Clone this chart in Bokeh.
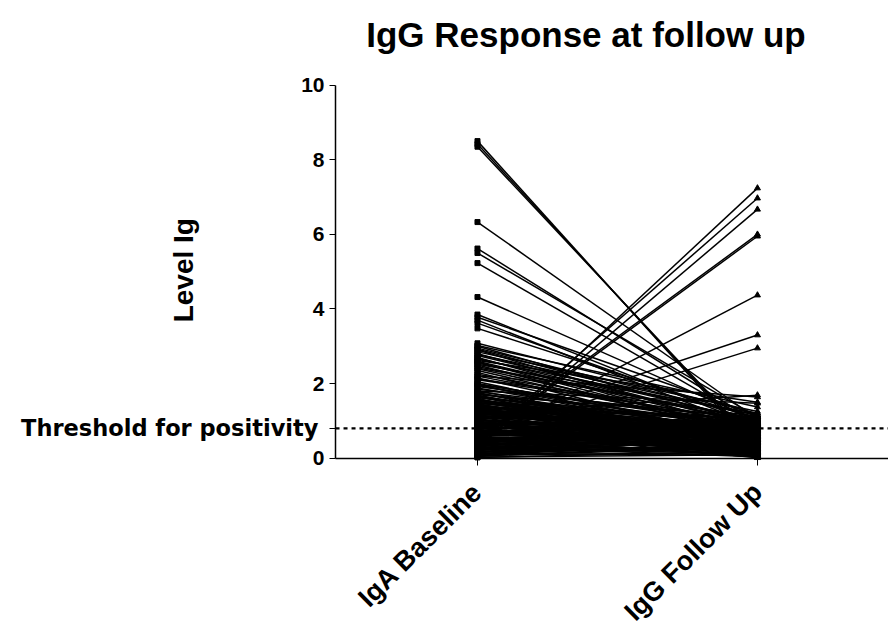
from bokeh.plotting import figure
from bokeh.models import Range1d, FixedTicker, LinearAxis
from bokeh.core.properties import value
from bokeh.embed import file_html
from bokeh.resources import INLINE
from math import pi

categories = ["IgA Baseline", "IgG Follow Up"]
x_pos = [0, 1]
y_ticks = [0, 2, 4, 6, 8, 10]
threshold = 0.8
threshold_label = "Threshold for positivity"
y_label = "Level Ig"
title_text = "IgG Response at follow up"

# Paired values: baseline[i] -> followup[i]
baseline = [
    # high baseline, falling
    8.50, 8.42, 8.35, 6.33, 5.62, 5.50, 5.23, 4.32, 3.85, 3.78, 3.70, 3.62, 3.48,
    3.08, 3.00, 2.95, 2.90, 2.85, 2.80, 2.75, 2.70, 2.65, 2.60, 2.55, 2.50, 2.45,
    2.40, 2.35, 2.25, 2.15, 2.10, 2.05, 2.00, 1.95,
    2.92, 2.78, 2.58, 2.42, 2.30, 2.20, 2.12, 1.98, 2.68, 2.52,
    # rising
    0.25, 0.40, 0.30, 0.50, 0.45, 0.45, 0.80, 0.60, 1.20, 2.20, 2.62, 1.80, 3.02,
    # dense mass
    1.92, 1.88, 1.85, 1.81, 1.78, 1.76, 1.73, 1.70, 1.67, 1.64, 1.62, 1.58, 1.56,
    1.53, 1.50, 1.47, 1.45, 1.42, 1.40, 1.37, 1.35, 1.32, 1.29, 1.27, 1.24, 1.21,
    1.19, 1.16, 1.13, 1.11, 1.08, 1.05, 1.03, 1.00, 0.97, 0.95, 0.92, 0.89, 0.87,
    0.84, 0.82, 0.79, 0.76, 0.74, 0.71, 0.68, 0.66, 0.63, 0.60, 0.58, 0.55, 0.52,
    0.50, 0.47, 0.45, 0.42, 0.39, 0.37, 0.34, 0.32, 0.29, 0.26, 0.24, 0.21, 0.19,
    0.16, 0.13, 0.11, 0.08, 0.05, 0.03, 1.60, 0.20, 1.30, 0.60, 1.75, 0.90,
    1.55, 1.48, 1.41, 1.33, 1.26, 1.18, 1.09, 1.01, 0.93, 0.86, 0.77, 0.69, 0.61,
    0.53, 0.46, 0.38, 0.31, 0.23, 0.15, 0.07, 1.69, 1.63, 1.57, 1.44, 1.36, 1.23,
    1.14, 0.99, 0.91, 0.81, 0.72, 0.64, 0.56, 0.44, 0.36, 0.27, 0.18, 0.10, 0.02,
    1.98,
    1.52, 1.46, 1.39, 1.31, 1.22, 1.15, 1.07, 0.98, 0.88, 0.80, 0.73, 0.65, 0.57,
    0.49, 0.41, 0.33, 0.25, 0.17, 0.09, 0.04, 1.59, 1.49, 1.38, 1.28, 1.17, 1.04,
    0.94, 0.83, 0.70, 0.59, 0.48, 0.35, 0.22, 0.12, 1.66, 1.34, 1.02, 0.75, 0.43,
    0.14,
]
followup = [
    0.20, 0.28, 0.35, 1.05, 0.95, 1.10, 0.90, 1.00, 0.85, 1.15, 0.75, 0.95, 1.05,
    1.20, 0.90, 1.10, 0.70, 1.25, 0.85, 1.00, 0.60, 1.15, 0.80, 0.95, 0.55, 1.05,
    0.75, 0.65, 0.90, 0.50, 1.00, 0.45, 0.70, 0.60,
    0.95, 1.15, 0.62, 1.05, 0.40, 0.80, 1.12, 0.30, 0.88, 1.20,
    7.24, 6.97, 6.67, 6.00, 5.95, 4.37, 3.30, 2.95, 1.69, 1.64, 1.50, 1.47, 1.37,
    0.95, 0.62, 1.05, 0.40, 0.88, 0.20, 0.71, 1.10, 0.55, 0.33, 0.92, 0.15, 0.68,
    1.02, 0.45, 0.82, 0.27, 0.60, 0.98, 0.12, 0.75, 0.38, 0.86, 0.50, 0.22, 0.93,
    0.64, 0.08, 0.79, 0.42, 1.00, 0.30, 0.58, 0.85, 0.18, 0.70, 0.47, 0.90, 0.25,
    0.63, 0.10, 0.80, 0.36, 0.55, 0.96, 0.14, 0.72, 0.41, 0.88, 0.28, 0.60, 0.05,
    0.77, 0.34, 0.52, 0.91, 0.19, 0.66, 0.44, 0.83, 0.11, 0.57, 0.31, 0.74, 0.23,
    0.49, 0.07, 0.68, 0.16, 0.39, 0.09, 0.05, 1.05, 0.02, 1.12, 0.48, 0.03,
    0.30, 0.95, 0.55, 0.13, 0.68, 0.88, 0.21, 0.61, 0.99, 0.35, 0.07, 0.84, 0.52,
    0.26, 0.97, 0.62, 0.04, 0.45, 0.81, 0.29, 0.38, 0.77, 0.58, 0.17, 1.08, 0.42,
    0.72, 0.12, 0.53, 0.94, 0.24, 0.67, 0.03, 0.78, 0.48, 0.89, 0.32, 0.56, 0.18,
    0.85,
    0.66, 0.14, 0.87, 0.46, 0.03, 0.59, 0.93, 0.27, 0.74, 0.15, 0.51, 1.02, 0.36,
    0.09, 0.69, 0.20, 0.84, 0.58, 0.41, 0.97, 0.08, 0.53, 0.79, 0.33, 0.96, 0.06,
    0.44, 0.71, 0.19, 1.00, 0.26, 0.92, 0.65, 0.37, 0.11, 0.50, 0.76, 0.01, 0.61,
    0.89,
]

# placement (in data units of the two axes)
x_start, x_end = -1.7036, 1.468
y_start, y_end = -0.25, 12.27
y_axis_x = -0.507
label_x = -0.568
ylabel_x, ylabel_y = -1.05, 5.04
title_x, title_y = 0.3875, 11.36

p = figure(frame_width=888, frame_height=467, output_backend="svg",
           toolbar_location=None,
           x_range=Range1d(x_start, x_end), y_range=Range1d(y_start, y_end),
           min_border_left=0, min_border_right=0, min_border_top=0,
           min_border_bottom=0)
p.outline_line_color = None
p.grid.visible = False
p.background_fill_color = "white"
p.border_fill_color = "white"

# paired lines and markers
xs = [[x_pos[0], x_pos[1]] for _ in baseline]
ys = [[b, f] for b, f in zip(baseline, followup)]
p.multi_line(xs=xs, ys=ys, line_color="black", line_width=1.5)
p.scatter(x=[x_pos[0]] * len(baseline), y=baseline, marker="square", size=5,
          color="black")
p.scatter(x=[x_pos[1]] * len(followup), y=followup, marker="triangle", size=6,
          color="black")

# threshold line and its label
p.line(x=[y_axis_x, x_end], y=[threshold, threshold], line_color="black",
       line_width=2.2, line_dash="4 4")
p.text(x=[label_x], y=[threshold], text=[threshold_label], text_align="right",
       text_baseline="middle", text_font=value("DejaVu Sans"),
       text_font_style="bold", text_font_size="22.5px", text_color="black")

# y axis label
p.text(x=[ylabel_x], y=[ylabel_y], text=[y_label], angle=pi / 2,
       text_align="center", text_baseline="middle",
       text_font=value("Liberation Sans"), text_font_style="bold",
       text_font_size="28px", text_color="black")

# title
p.text(x=[title_x], y=[title_y], text=[title_text], text_align="center",
       text_baseline="alphabetic", text_font=value("Liberation Sans"),
       text_font_style="bold", text_font_size="35px", text_color="black")

# x axis line and ticks at y = 0
xa = p.xaxis[0]
xa.fixed_location = 0
xa.bounds = (y_axis_x, x_end)
xa.ticker = FixedTicker(ticks=x_pos)
xa.major_label_text_color = None
xa.major_tick_in = 0
xa.major_tick_out = 7
xa.minor_tick_line_color = None
xa.axis_line_width = 1.5
xa.axis_line_color = "black"
xa.major_tick_line_color = "black"

# category labels
xl = LinearAxis(ticker=FixedTicker(ticks=x_pos),
                major_label_overrides={0: categories[0], 1: categories[1]},
                major_label_orientation=pi / 4,
                major_label_text_font="Liberation Sans",
                major_label_text_font_style="bold",
                major_label_text_font_size="27px",
                major_label_text_color="black",
                major_label_standoff=20,
                axis_line_color=None, major_tick_line_color=None,
                minor_tick_line_color=None, major_tick_in=0, major_tick_out=0)
p.add_layout(xl, "below")

# y axis, placed inside the data area
ya = p.yaxis[0]
ya.fixed_location = y_axis_x
ya.bounds = (0, 10)
ya.ticker = FixedTicker(ticks=y_ticks + [threshold])
ya.major_label_overrides = {threshold: ""}
ya.major_label_text_font = "Liberation Sans"
ya.major_label_text_font_style = "bold"
ya.major_label_text_font_size = "21px"
ya.major_label_text_color = "black"
ya.major_tick_in = 0
ya.major_tick_out = 6
ya.minor_tick_line_color = None
ya.axis_line_width = 1.5
ya.axis_line_color = "black"
ya.major_tick_line_color = "black"

open("out.html", "w").write(file_html(p, INLINE))
